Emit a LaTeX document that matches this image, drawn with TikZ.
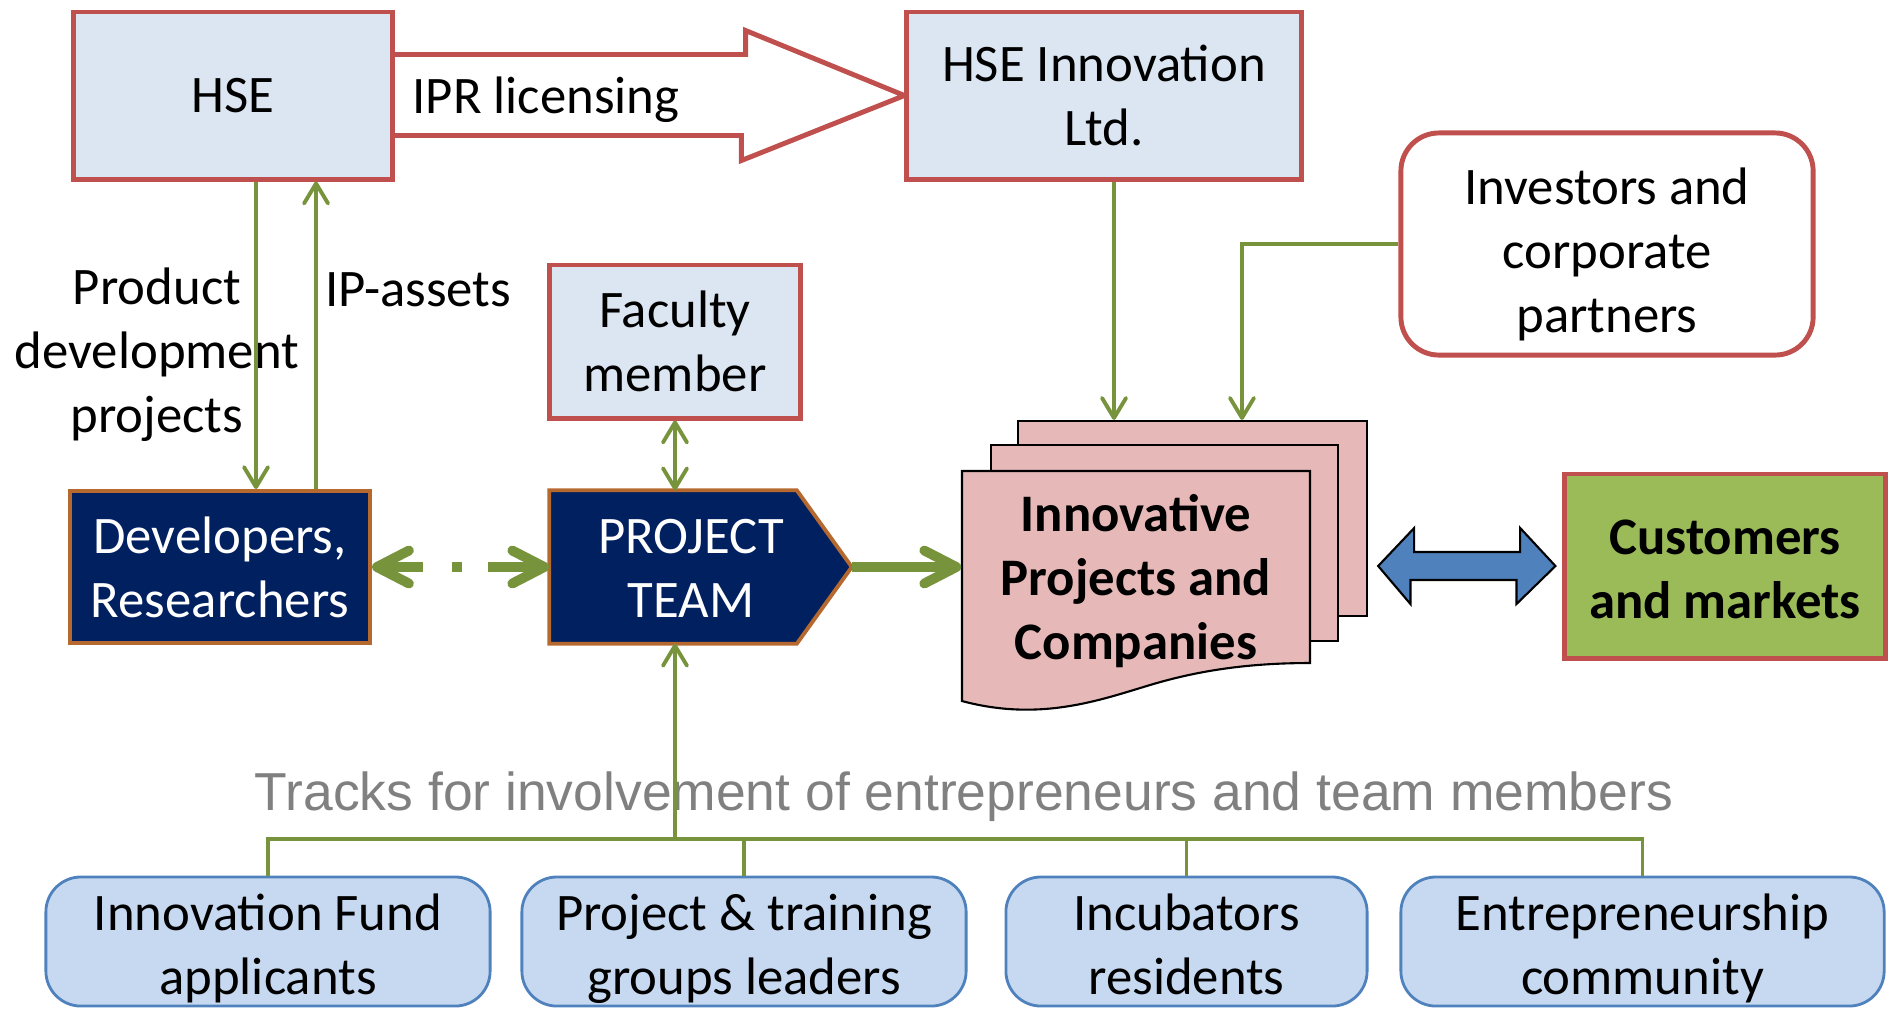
\documentclass[tikz,border=0pt]{standalone}
\usepackage{fontspec}
\setmainfont{Carlito}
\newfontfamily\arialfont{Liberation Sans}
\usepackage{xcolor}
\usetikzlibrary{positioning,calc,arrows.meta,backgrounds}

\definecolor{boxred}{HTML}{C0504D}
\definecolor{paleblue}{HTML}{DCE6F2}
\definecolor{linkgreen}{HTML}{77933C}
\definecolor{navy}{HTML}{002060}
\definecolor{rust}{HTML}{B5692F}
\definecolor{docpink}{HTML}{E6B9B8}
\definecolor{arrowblue}{HTML}{4F81BD}
\definecolor{marketgreen}{HTML}{9BBB59}
\definecolor{trackfill}{HTML}{C6D9F1}
\definecolor{trackline}{HTML}{4F81BD}
\definecolor{tracktext}{HTML}{808080}

\begin{document}
\begin{tikzpicture}[x=0.01cm, y=-0.01cm, font=\fontsize{15}{18.2}\selectfont,
    redbox/.style={draw=boxred, fill=paleblue, line width=1.4pt, align=center, inner sep=0pt},
    darkbox/.style={fill=navy, draw=rust, line width=1.1pt, text=white, align=center, inner sep=0pt},
    trackbox/.style={draw=trackline, fill=trackfill, line width=0.8pt, rounded corners=0.35cm,
        minimum height=1.29cm, inner sep=0pt},
    tracklabel/.style={align=center, execute at begin node=\strut, execute at end node=\strut},
    page/.style={draw=black, fill=docpink, line width=0.6pt, inner sep=0pt},
    link/.style={draw=linkgreen, line width=1.1pt, -{Straight Barb[length=2mm, width=2.4mm, round]}},
    twolink/.style={link, {Straight Barb[length=2mm, width=2.4mm, round]}-{Straight Barb[length=2mm, width=2.4mm, round]}},
    busline/.style={draw=linkgreen, line width=0.9pt},
    fatlink/.style={draw=linkgreen, line width=2.8pt, -{Straight Barb[length=3.2mm, width=3.3mm, round]}},
    fattwolink/.style={fatlink, {Straight Barb[length=3.2mm, width=3.3mm, round]}-{Straight Barb[length=3.2mm, width=3.3mm, round]}},
    boldtext/.style={font=\fontsize{15}{18.2}\selectfont\bfseries, align=center}]

\useasboundingbox (0,0) rectangle (1892,1008);

% top row
\node[redbox, minimum width=3.18cm, minimum height=1.67cm] (hse) at (233,95.5) {HSE};
\node[redbox, minimum width=3.94cm, minimum height=1.67cm] (hsei) at (1104,95.5) {HSE Innovation\\Ltd.};
\node[redbox, fill=white, rounded corners=0.38cm, minimum width=4.12cm, minimum height=2.22cm] (inv) at (1607,244) {};
\node[align=center] (invtext) at (1607,254) {Investors and\\corporate\\partners};

\begin{pgfonlayer}{background}
  \filldraw[draw=boxred, fill=white, line width=1.4pt, line join=miter]
    ([yshift=0.41cm]hse.east) -- ++(351,0) -- ++(0,-24) -- (hsei.west) -- ++(-163,65) -- ++(0,-25) -- ([yshift=-0.40cm]hse.east);
\end{pgfonlayer}
\node (ipr) at (546,100) {IPR licensing};

% middle row
\node[redbox, minimum width=2.5cm, minimum height=1.53cm] (fac) at (675,341.5) {Faculty\\member};
\node[darkbox, minimum width=3cm, minimum height=1.52cm] (dev) at (220,567) {Developers,\\Researchers};
\node[minimum width=3.01cm, minimum height=1.52cm, inner sep=0pt] (team) at (700.5,567) {};
\filldraw[fill=navy, draw=rust, line width=1.1pt] (team.north west) -- ([xshift=-0.55cm]team.north east)
  -- (team.east) -- ([xshift=-0.55cm]team.south east) -- (team.south west) -- cycle;
\node[text=white, align=center] (teamtext) at (691,568) {PROJECT\\TEAM};

\node[align=center] (pdp) at (157,355) {Product\\development\\projects};
\node (ipa) at (418,290) {IP-assets};

% stack of documents
\node[page, minimum width=3.49cm, minimum height=1.95cm] (back) at (1192.5,518.5) {};
\node[page, minimum width=3.47cm, minimum height=1.96cm] (mid) at (1164.5,543) {};
\filldraw[page] (962,471) -- (1310,471) -- (1310,663) .. controls (1250,663) and (1200,670) .. (1150,685)
  .. controls (1100,700) and (1040,722) .. (962,701) -- cycle;
\node[boldtext, minimum width=3.48cm, inner sep=0pt] (docs) at (1136,581) {Innovative\\Projects and\\Companies};

\node[redbox, fill=marketgreen, minimum width=3.2cm, minimum height=1.84cm] (cust) at (1725,566) {};
\node[boldtext] (custtext) at (1725,569) {Customers\\and markets};

\coordinate (bl) at ([xshift=0.1cm]back.east |- cust);
\coordinate (br) at ([xshift=-0.07cm]cust.west);
\filldraw[fill=arrowblue, draw=black, line width=0.6pt] (bl) -- ++(36,-38) -- ++(0,24) -- ++(106,0) -- ++(0,-24)
  -- (br) -- ++(-39,38) -- ++(0,-24) -- ++(-106,0) -- ++(0,24) -- cycle;

% bottom row
\node[font=\arialfont\fontsize{15.2}{18}\selectfont, text=tracktext] (tracks) at (964,797) {Tracks for involvement of entrepreneurs and team members};
\foreach \cx/\bw/\txt [count=\i] in {268/4.44/{Innovation Fund\\applicants}, 744/4.44/{Project \& training\\groups leaders},
    1186.5/3.61/{Incubators\\residents}, 1642.5/4.83/{Entrepreneurship\\community}} {
  \node[trackbox, minimum width=\bw cm] (t\i) at (\cx,941.5) {};
  \node[tracklabel] (l\i) at (\cx,954) {\txt};
}

% connectors
\draw[link] ([xshift=0.23cm]hse.south) -- ([xshift=0.23cm]hse.south |- dev.north);
\draw[link] ([xshift=0.83cm]hse.south |- dev.north) -- ([xshift=0.83cm]hse.south);
\draw[twolink] (fac.south) -- (fac.south |- team.north);
\draw[fattwolink, dash pattern=on 0.41cm off 0.29cm on 0.1cm off 0.26cm on 2cm] (dev.east) -- (team.west);
\draw[fatlink] (team.east) -- (team.east -| docs.west);
\draw[link] ([xshift=0.1cm]hsei.south) -- ([xshift=0.1cm]hsei.south |- back.north);
\draw[link] (inv.west) -| ([xshift=2.25cm]back.north west);

\coordinate (bus) at (fac |- 0,839);
\draw[busline] (t1.north) -- (t1.north |- bus) -- (t4.north |- bus) -- (t4.north);
\foreach \i in {2,3}
  \draw[busline] (t\i.north) -- (t\i.north |- bus);
\draw[link] (bus) -- (fac |- team.south);
\end{tikzpicture}
\end{document}
